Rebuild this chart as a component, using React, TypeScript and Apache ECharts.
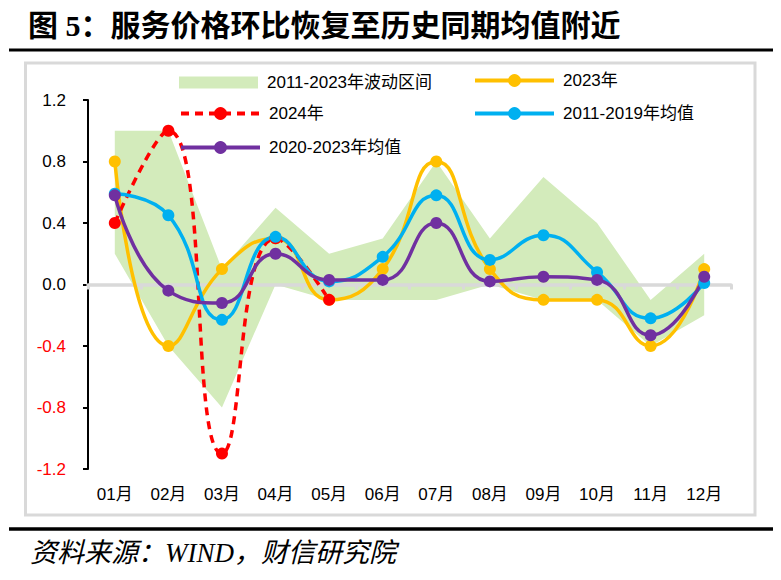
import React, { useEffect, useRef } from 'react';
import * as echarts from 'echarts';

const months = ['01月', '02月', '03月', '04月', '05月', '06月', '07月', '08月', '09月', '10月', '11月', '12月'];
const bandLower = [0.2, -0.4, -0.8, 0.0, -0.1, -0.1, -0.1, 0.0, -0.1, -0.1, -0.4, -0.2];
const bandUpper = [1.0, 1.0, 0.1, 0.5, 0.2, 0.3, 0.8, 0.3, 0.7, 0.4, -0.1, 0.2];
const y2023 = [0.8, -0.4, 0.1, 0.3, -0.1, 0.1, 0.8, 0.1, -0.1, -0.1, -0.4, 0.1];
const y2024 = [0.4, 1.0, -1.1, 0.3, -0.1];
const avg2011to2019 = [0.59, 0.45, -0.23, 0.31, 0.02, 0.18, 0.58, 0.16, 0.32, 0.08, -0.22, 0.01];
const avg2020to2023 = [0.58, -0.04, -0.12, 0.2, 0.03, 0.03, 0.4, 0.02, 0.05, 0.03, -0.33, 0.05];
const yMin = -1.2;
const yMax = 1.2;
const yInterval = 0.4;

const nameBand = '2011-2023年波动区间';
const name2023 = '2023年';
const name2024 = '2024年';
const nameAvg1 = '2011-2019年均值';
const nameAvg2 = '2020-2023年均值';

const GREEN = '#d3ebbb';
const YELLOW = '#ffc000';
const RED = '#ff0000';
const BLUE = '#00b0f0';
const PURPLE = '#7030a0';

const FONT = '"Liberation Sans", "Noto Sans CJK SC", sans-serif';

export default function App() {
  const ref = useRef<HTMLDivElement>(null);
  useEffect(() => {
    if (!ref.current) return;
    const chart = echarts.init(ref.current, null, { renderer: 'svg' });
    const bandDiff = bandUpper.map((u, i) => +(u - bandLower[i]).toFixed(4));
    const lineSeries = (name: string, data: number[], color: string, dashed = false) => ({
      name,
      type: 'line',
      data,
      smooth: 0.5,
      symbol: 'circle',
      symbolSize: 12,
      z: 3,
      itemStyle: { color },
      lineStyle: { color, width: 3.5, type: dashed ? [8, 6] : 'solid' },
    });
    const legendText = { color: '#000', fontSize: 17, fontFamily: FONT, padding: [0, 0, 0, 4] };
    const mkLegend = (name: string, left: number, top: number, extra: any = {}) => ({
      show: true,
      left,
      top,
      padding: 0,
      itemWidth: 79,
      itemHeight: 16,
      selectedMode: false,
      textStyle: legendText,
      lineStyle: { width: 4 },
      data: [name],
      ...extra,
    });
    chart.setOption({
      animation: false,
      backgroundColor: '#fff',
      grid: { left: 88, top: 100, width: 643, height: 369, containLabel: false, outerBoundsMode: 'none' },
      legend: [
        mkLegend(nameBand, 179, 74, {
          itemHeight: 12,
          data: [{ name: nameBand, icon: 'rect', itemStyle: { color: GREEN } }],
        }),
        mkLegend(name2023, 473, 72),
        mkLegend(name2024, 179, 105),
        mkLegend(nameAvg1, 473, 105),
        mkLegend(nameAvg2, 179, 139),
      ],
      xAxis: [
        {
          type: 'category',
          data: months,
          position: 'bottom',
          boundaryGap: true,
          axisLine: { show: false, onZero: false },
          axisTick: { show: false },
          axisLabel: { show: true, margin: 17, color: '#000', fontSize: 17, fontFamily: FONT },
          splitLine: { show: false },
        },
        {
          type: 'category',
          data: months,
          position: 'top',
          boundaryGap: true,
          z: 1,
          axisLine: { show: true, onZero: true, lineStyle: { color: '#d9d9d9', width: 3.5 } },
          axisTick: { show: true, inside: true, length: 5, alignWithLabel: false, lineStyle: { color: '#d9d9d9', width: 3 } },
          axisLabel: { show: false },
          splitLine: { show: false },
        },
      ],
      yAxis: {
        type: 'value',
        min: yMin,
        max: yMax,
        interval: yInterval,
        axisLine: { show: true, onZero: false, lineStyle: { color: '#000', width: 2 } },
        axisTick: { show: true, length: 5, lineStyle: { color: '#000', width: 2 } },
        splitLine: { show: false },
        axisLabel: {
          margin: 22,
          fontSize: 17,
          fontFamily: FONT,
          formatter: (v: number) => (Math.abs(v) < 1e-9 ? '0.0' : v.toFixed(1)),
          color: (v: any) => (Number(v) < -1e-9 ? '#ff0000' : '#000'),
        },
      },
      series: [
        {
          name: 'bandLower',
          type: 'line',
          data: bandLower,
          stack: 'band',
          stackStrategy: 'all',
          symbol: 'none',
          silent: true,
          z: 0,
          lineStyle: { width: 0, opacity: 0 },
        },
        {
          name: nameBand,
          type: 'line',
          data: bandDiff,
          stack: 'band',
          stackStrategy: 'all',
          symbol: 'none',
          silent: true,
          z: 0,
          itemStyle: { color: GREEN },
          lineStyle: { width: 0, opacity: 0 },
          areaStyle: { color: GREEN, opacity: 1 },
        },
        lineSeries(name2023, y2023, YELLOW),
        lineSeries(name2024, y2024, RED, true),
        lineSeries(nameAvg1, avg2011to2019, BLUE),
        lineSeries(nameAvg2, avg2020to2023, PURPLE),
      ],
      graphic: [
        {
          type: 'text',
          x: 28,
          y: 25,
          style: {
            text: '图 5：服务价格环比恢复至历史同期均值附近',
            font: 'bold 30px "Liberation Serif", "Noto Sans CJK SC", serif',
            fill: '#000',
            verticalAlign: 'middle',
          },
        },
        { type: 'line', shape: { x1: 9, y1: 50, x2: 773, y2: 50 }, style: { stroke: '#000', lineWidth: 3 } },
        {
          type: 'rect',
          z: -1,
          shape: { x: 25.5, y: 63, width: 729.5, height: 452 },
          style: { fill: 'none', stroke: '#d9d9d9', lineWidth: 3 },
        },
        { type: 'line', shape: { x1: 9, y1: 529, x2: 773, y2: 529 }, style: { stroke: '#000', lineWidth: 3.5 } },
        {
          type: 'text',
          x: 30,
          y: 553,
          style: {
            text: '资料来源：WIND，财信研究院',
            font: 'italic 27px "Liberation Serif", "Noto Sans CJK SC", serif',
            fill: '#000',
            verticalAlign: 'middle',
          },
        },
      ],
    });
    return () => chart.dispose();
  }, []);
  return (
    <div
      ref={ref}
      style={{ position: 'fixed', left: 0, top: 0, width: 781, height: 580, background: '#fff' }}
    />
  );
}
